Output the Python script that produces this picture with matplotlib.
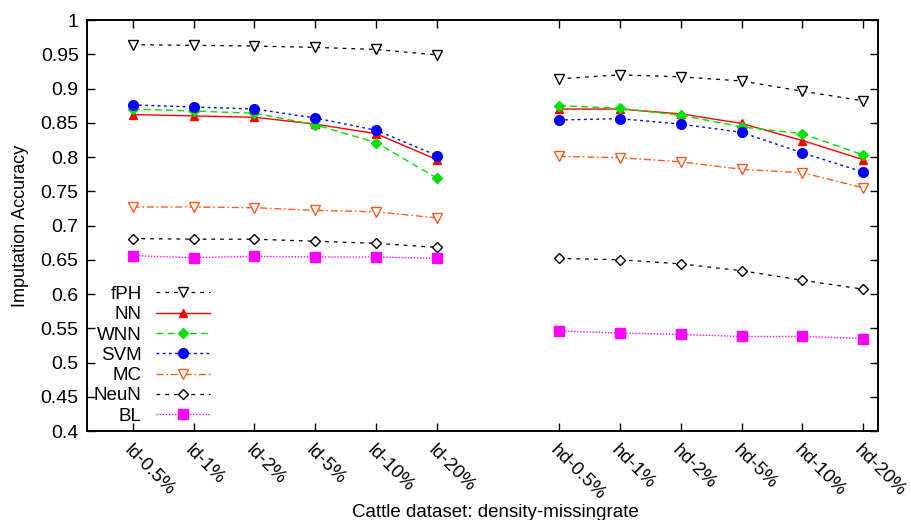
import matplotlib
matplotlib.use("Agg")
import matplotlib.pyplot as plt

plt.rcParams['font.family'] = ['Liberation Sans', 'DejaVu Sans']

categories = ["ld-0.5%", "ld-1%", "ld-2%", "ld-5%", "ld-10%", "ld-20%",
              "hd-0.5%", "hd-1%", "hd-2%", "hd-5%", "hd-10%", "hd-20%"]
positions = [0, 1, 2, 3, 4, 5, 7, 8, 9, 10, 11, 12]

fPH = [0.964, 0.963, 0.962, 0.960, 0.957, 0.949,
       0.914, 0.920, 0.917, 0.911, 0.896, 0.882]
NN = [0.862, 0.860, 0.858, 0.848, 0.834, 0.796,
      0.870, 0.870, 0.863, 0.849, 0.824, 0.796]
WNN = [0.870, 0.867, 0.864, 0.847, 0.821, 0.769,
       0.875, 0.871, 0.861, 0.844, 0.834, 0.803]
SVM = [0.876, 0.873, 0.870, 0.857, 0.839, 0.802,
       0.854, 0.856, 0.848, 0.836, 0.806, 0.778]
MC = [0.727, 0.727, 0.726, 0.722, 0.720, 0.711,
      0.801, 0.799, 0.793, 0.782, 0.777, 0.755]
NeuN = [0.681, 0.680, 0.680, 0.677, 0.674, 0.668,
        0.652, 0.650, 0.644, 0.634, 0.620, 0.607]
BL = [0.656, 0.653, 0.655, 0.654, 0.654, 0.652,
      0.546, 0.543, 0.541, 0.538, 0.538, 0.535]

yticks = [0.4, 0.45, 0.5, 0.55, 0.6, 0.65, 0.7, 0.75, 0.8, 0.85, 0.9, 0.95, 1.0]
ytick_labels = ["0.4", "0.45", "0.5", "0.55", "0.6", "0.65", "0.7", "0.75",
                "0.8", "0.85", "0.9", "0.95", "1"]

fig = plt.figure(figsize=(9.11, 5.20), dpi=100)
ax = fig.add_axes([87/911, 1-431/520, (878-87)/911, (431-20)/520])

series = [
    ("fPH", fPH, dict(color="black", marker="v", markerfacecolor="white",
                      markeredgecolor="black", markersize=6.5, dashes=(3, 4), lw=0.9)),
    ("NN", NN, dict(color="#ff0000", marker="^", markersize=6, lw=1.0)),
    ("WNN", WNN, dict(color="#00e000", marker="D", markersize=5, dashes=(5, 3), lw=1.0)),
    ("SVM", SVM, dict(color="#0000ff", marker="o", markersize=7, dashes=(2, 2.5), lw=1.0)),
    ("MC", MC, dict(color="#ff5a1e", marker="v", markerfacecolor="white",
                    markeredgecolor="#ff5a1e", markersize=6.5, dashes=(5, 2, 1.2, 2), lw=1.0)),
    ("NeuN", NeuN, dict(color="black", marker="D", markerfacecolor="white",
                        markeredgecolor="black", markersize=5, dashes=(3, 4), lw=0.9)),
    ("BL", BL, dict(color="#ff00ff", marker="s", markersize=7, dashes=(1, 1.2), lw=1.0)),
]

for name, vals, style in series:
    ax.plot(positions[:6], vals[:6], label=name, **style)
    ax.plot(positions[6:], vals[6:], **style)

ax.set_xlim(-0.75, 12.24)
ax.set_ylim(0.4, 1.0)
ax.set_xticks(positions)
ax.set_xticklabels(categories, rotation=-45, ha="left", va="top",
                   rotation_mode="anchor", fontsize=13.5)
ax.set_yticks(yticks)
ax.set_yticklabels(ytick_labels, fontsize=14)
ax.tick_params(direction="in", length=6, width=1.0, top=True, right=True,
               labeltop=False, labelright=False)
ax.tick_params(axis="x", pad=8)
ax.tick_params(axis="y", pad=6)
for s in ax.spines.values():
    s.set_linewidth(1.4)

ax.set_xlabel("Cattle dataset: density-missingrate", fontsize=13.5)
ax.xaxis.set_label_coords(0.516, -0.178)
ax.set_ylabel("Imputation Accuracy", fontsize=13, labelpad=8)

leg = ax.legend(loc="lower left", bbox_to_anchor=(0.004, 0.006), frameon=False,
                markerfirst=False, fontsize=13.5, handlelength=2.9,
                handletextpad=0.75, labelspacing=0.17, borderpad=0.2,
                borderaxespad=0.0)

fig.savefig("out.png", dpi=100)
